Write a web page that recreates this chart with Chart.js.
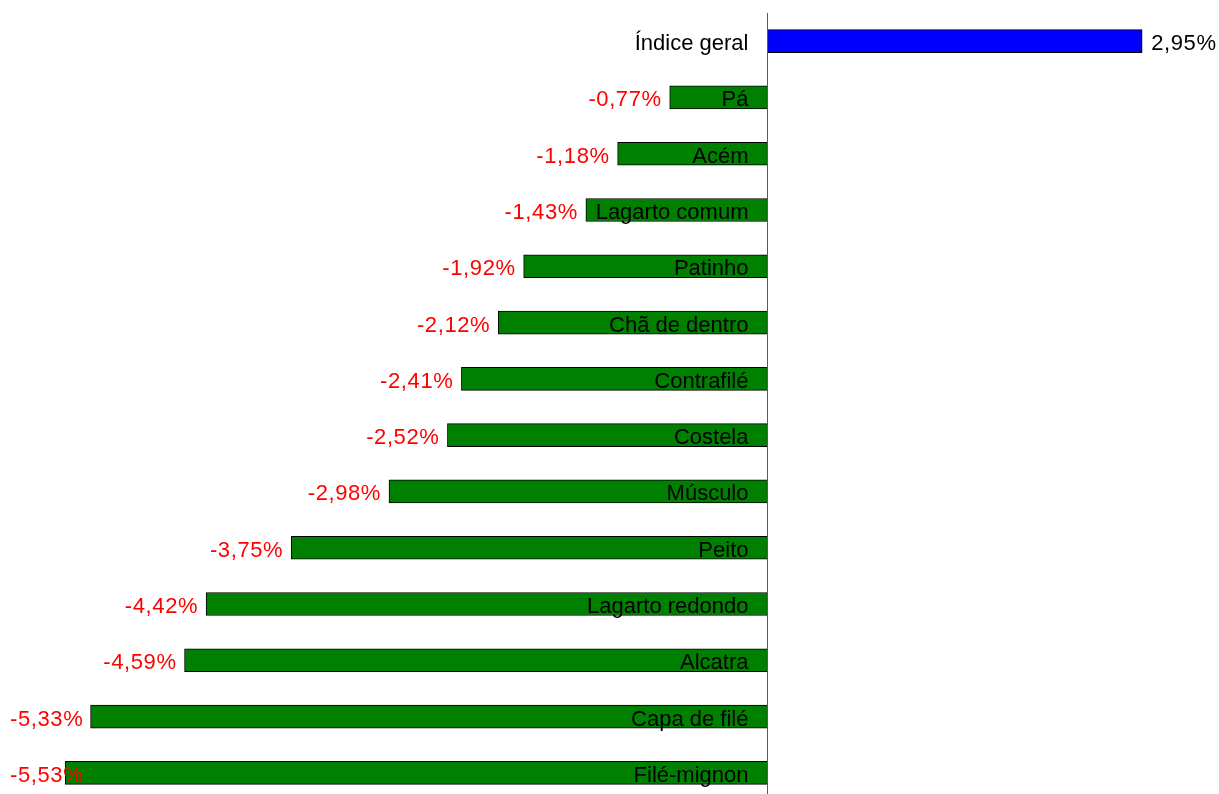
<!DOCTYPE html>
<html>
<head>
<meta charset="utf-8">
<script src="https://cdn.jsdelivr.net/npm/chart.js@4/dist/chart.umd.min.js"></script>
<style>
  html, body { margin: 0; padding: 0; background: #fff; overflow: hidden; }
  #wrap { width: 1219px; height: 801px; }
</style>
</head>
<body>
<div id="wrap"><canvas id="chart" width="1219" height="801"></canvas></div>
<script>
// Variação de preços por corte de carne (%)
const categories = [
  'Índice geral', 'Pá', 'Acém', 'Lagarto comum', 'Patinho', 'Chã de dentro',
  'Contrafilé', 'Costela', 'Músculo', 'Peito', 'Lagarto redondo', 'Alcatra',
  'Capa de filé', 'Filé-mignon'
];
const values = [2.95, -0.77, -1.18, -1.43, -1.92, -2.12, -2.41, -2.52, -2.98, -3.75, -4.42, -4.59, -5.33, -5.53];
const barColors = ['#0000ff', '#008000', '#008000', '#008000', '#008000', '#008000', '#008000',
  '#008000', '#008000', '#008000', '#008000', '#008000', '#008000', '#008000'];

const FONT = '22px "Liberation Sans", Arial, sans-serif';

function fmt(v) {
  return v.toFixed(2).replace('.', ',') + '%';
}

// Linha vertical no zero, nomes dos cortes e rótulos de valor
const labelsPlugin = {
  id: 'barLabels',
  afterDatasetsDraw(chart) {
    const ctx = chart.ctx;
    const x = chart.scales.x;
    const area = chart.chartArea;
    const zero = x.getPixelForValue(0);
    ctx.save();
    ctx.strokeStyle = '#5a5a5a';
    ctx.lineWidth = 1;
    ctx.beginPath();
    ctx.moveTo(Math.round(zero) + 0.5, area.top);
    ctx.lineTo(Math.round(zero) + 0.5, area.bottom);
    ctx.stroke();

    ctx.font = FONT;
    ctx.textBaseline = 'alphabetic';
    const meta = chart.getDatasetMeta(0);
    meta.data.forEach((bar, i) => {
      const v = values[i];
      const y = bar.y + 9;
      // nome da categoria, alinhado à direita junto ao zero
      ctx.letterSpacing = '0px';
      ctx.fillStyle = '#000';
      ctx.textAlign = 'right';
      ctx.fillText(categories[i], zero - 19, y);
      // valor na ponta da barra
      const txt = fmt(v);
      ctx.letterSpacing = '0.6px';
      if (v >= 0) {
        ctx.textAlign = 'left';
        ctx.fillStyle = '#000';
        ctx.fillText(txt, bar.x + 9, y);
      } else {
        const w = ctx.measureText(txt).width;
        let right = bar.x - 8;
        if (right - w < 10) right = 10 + w;
        ctx.textAlign = 'right';
        ctx.fillStyle = '#ff0000';
        ctx.fillText(txt, right, y);
      }
    });
    ctx.restore();
  }
};

new Chart(document.getElementById('chart'), {
  type: 'bar',
  data: {
    labels: categories,
    datasets: [{
      data: values,
      backgroundColor: barColors,
      borderColor: '#000',
      borderWidth: 1,
      borderSkipped: false,
      barThickness: 23
    }]
  },
  options: {
    indexAxis: 'y',
    responsive: false,
    animation: false,
    layout: { padding: { top: 13, bottom: 0, left: 0, right: 0 } },
    plugins: { legend: { display: false }, tooltip: { enabled: false } },
    scales: {
      x: { display: false, min: -6.043, max: 3.555 },
      y: { display: false, offset: true }
    }
  },
  plugins: [labelsPlugin]
});
</script>
</body>
</html>
